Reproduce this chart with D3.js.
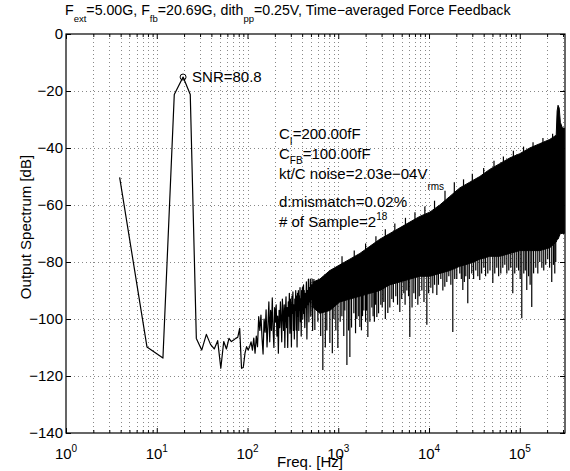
<!DOCTYPE html>
<html>
<head>
<meta charset="utf-8">
<script src="https://cdn.jsdelivr.net/npm/d3@7"></script>
<style>
body { margin: 0; background: #fff; }
svg { display: block; font-family: "Liberation Sans", Arial, Helvetica, sans-serif; }
</style>
</head>
<body>
<div id="chart"></div>
<script>
/* ===== DATA ===== */
// sparse part of the spectrum, [Hz, dB]
const trace = [
  [3.9,-50.3],[7.8,-109.8],[11.7,-113.7],[15.6,-21.2],[19.5,-15.1],[23.4,-21.2],[27.3,-106.8],
  [31.3,-110.9],[35.2,-105.4],[39.1,-108.9],[43.0,-110.5],[46.9,-107.6],[50.8,-117.3],[54.7,-107.9],
  [58.6,-110.5],[62.5,-106.8],[66.4,-107.9],[70.3,-107.4],[74.2,-106.8],[78.1,-106.4],[82.0,-103.3],
  [85.9,-117.3],[89.8,-117.0],[93.8,-112.0],[97.7,-109.7],[101.6,-110.9],[105.5,-109.7],[109.4,-108.0],
  [113.3,-110.9],[117.2,-106.7],[121.1,-112.0],[125.0,-106.0],[128.9,-109.7],[132.8,-99.2],[136.7,-104.0],
  [140.6,-98.6],[144.5,-106.7],[148.4,-112.3],[152.3,-100.0],[156.3,-104.6],[160.2,-96.8],[164.1,-109.8],
  [168.0,-102.0],[171.9,-94.0],[175.8,-108.0],[179.7,-97.0],[183.6,-104.0],[187.5,-92.6],[191.4,-103.8],
  [195.3,-110.0],[199.2,-96.0],[203.1,-101.0],[207.0,-95.0],[210.9,-106.0],[214.8,-99.0],[218.8,-112.0],
  [222.7,-97.0],[226.6,-103.0],[230.5,-94.0],[234.4,-100.0],[238.3,-108.0],[242.2,-93.0],[246.1,-98.0],
  [250.0,-104.0],[253.9,-95.0],[257.8,-110.0],[261.7,-97.0],[265.6,-92.2],[269.5,-103.0],[273.4,-96.0],
  [277.3,-110.0],[281.3,-94.0],[285.2,-99.0],[289.1,-91.0],[293.0,-105.0],[296.9,-93.0],[300.8,-97.0],
  [304.7,-109.8],[308.6,-92.0],[312.5,-98.0],[316.4,-90.5],[320.3,-104.0],[324.2,-95.0],[328.1,-107.0],
  [332.0,-93.0],[335.9,-97.0],[339.8,-90.0],[343.8,-103.9],[347.7,-92.0],[351.6,-109.8],[355.5,-91.0],
  [359.4,-99.0],[363.3,-90.0],[367.2,-104.0],[371.1,-92.0],[375.0,-97.0],[378.9,-89.0],[382.8,-101.0],
  [386.7,-93.0],[390.6,-106.0],[394.5,-90.0],[398.4,-96.0],[402.3,-89.0],[406.3,-100.0],[410.2,-92.0],
  [414.1,-88.0],[418.0,-98.0],[421.9,-90.0],[427.7,-103.0],[433.6,-91.0],[439.5,-96.0],[445.3,-87.0],
  [451.2,-107.0],[457.0,-90.0],[462.9,-95.0],[468.8,-86.0],[474.6,-101.0],[480.5,-89.0],[486.3,-94.0],
  [492.2,-86.0],[498.0,-99.0],[503.9,-88.0],[509.8,-93.0],[515.6,-86.0],[521.5,-104.0],[527.3,-88.0],
  [533.2,-95.0],[539.1,-86.0]
];

// dense part: edges of the solid black band
const bandHz = [530, 627, 808, 1041, 1342, 1729, 2228, 2871, 3700, 4767, 6143, 7916, 10200, 13140,
  16940, 21820, 28120, 36240, 46700, 60170, 77530, 99900, 128700, 165900, 213800, 252000, 258000, 264000,
  272000, 280000, 295000, 310000];
const bandTop = [-87, -86, -83, -81, -79, -77, -74.5, -72, -70, -68, -66, -64, -62.5, -60,
  -57, -54, -52, -50, -47.5, -45.5, -43.5, -42, -40, -38.5, -37, -35.5, -27, -25,
  -26, -31, -33, -33];
const bandBottom = [-96, -98, -97, -94, -93, -92, -91, -90, -88, -87, -86, -85, -85, -84,
  -83, -81.5, -80.5, -79, -78, -78, -77, -76, -76, -76, -75, -73, -72, -72,
  -71, -70, -70, -70];

// small teeth on the upper edge, [Hz, dB]
const upSpikes = [
  [1100,-78],[1500,-76],[2000,-73.5],[2600,-71],[3300,-68.5],[4200,-66.5],[5500,-64.5],[7000,-62.5],
  [9000,-60.5],[11500,-58.5],[15000,-55],[19000,-52],[24000,-51],[30000,-49],[40000,-47],[52000,-44.5],
  [66000,-43],[85000,-41],[110000,-39.5],[140000,-38],[180000,-36.5],[230000,-35]
];

// downward spikes below the band, [Hz, dB]
const spikes = [
  [552,-103.9],[596,-101],[640,-106],[676,-117.9],[720,-110],[748,-104],
  [808,-108.4],[860,-112],[895,-100],[940,-104],[990,-110.2],[1050,-101],[1096,-99],[1150,-106],[1180,-97],
  [1245,-116.1],[1300,-104],[1342,-113.3],[1400,-103],[1485,-98],[1550,-105],[1602,-100],[1680,-99],
  [1729,-102.8],[1800,-104],[1850,-99],[1914,-97],[2000,-101],[2050,-97],[2118,-106.3],[2230,-101],
  [2344,-96],[2420,-99],[2500,-101],[2580,-95],[2661,-99.3],[2780,-98],[2944,-95],[3050,-96],[3177,-94],
  [3300,-100],[3516,-97.9],[3700,-96],[3891,-93],[4050,-94],[4306,-92],[4500,-95],[4767,-97.5],[5000,-93],
  [5276,-91],[5450,-95],[5699,-90],[5950,-92],[6143,-106.3],[6500,-96],[6802,-91],[7100,-93],[7530,-95],
  [7800,-92],[8331,-90],[8800,-94],[9462,-102],[9900,-91],[10470,-89],[11010,-91],[11500,-88],[12190,-91.6],
  [12700,-88],[13490,-86],[14200,-90],[14930,-88.7],[15700,-87],[16520,-85],[17400,-88],[18280,-104.6],
  [19200,-86],[20230,-86],[21830,-84],[22700,-86],[23570,-89.8],[24500,-87],[25420,-85],[26730,-94.5],
  [27800,-86],[29580,-84],[31000,-86],[32740,-83],[34500,-85],[36230,-86.3],[38000,-84],[40150,-82],
  [42000,-85],[44430,-84],[47000,-83],[50450,-87.4],[53000,-84],[55830,-82],[58500,-85],[61780,-84],
  [65000,-82],[68370,-81],[72000,-84],[75650,-83],[79500,-82],[83730,-91],[88000,-84],[92680,-82],
  [97000,-83],[101000,-86],[105200,-99.7],[110700,-84],[115000,-83],[119400,-89.8],[125000,-85],
  [130000,-88],[135500,-95.8],[142000,-84],[150000,-82],[158000,-84],[166000,-80],[175000,-82],
  [183700,-83],[193000,-81],[203300,-79],[213000,-82],[225000,-87],[235000,-81],[243000,-84],[249000,-80]
];

const xDomain = [1, 3.15e5];
const xMajor = [1, 10, 100, 1e3, 1e4, 1e5];
const xExp = ["0", "1", "2", "3", "4", "5"];
const yTicks = [-140, -120, -100, -80, -60, -40, -20, 0];

const snrLabel = "SNR=80.8";
// [text, baseline shift px, font size]
const titleParts = [["F",0,14.2],["ext",7,9.5],["=5.00G, F",0,14.2],["fb",7,9.5],["=20.69G, dith",0,14.2],
  ["pp",7,9.5],["=0.25V, Time\u2212averaged Force Feedback",0,14.2]];
const noteLines = [
  [["C",0,15],["I",6,10],["=200.00fF",0,15]],
  [["C",0,15],["FB",5,10],["=100.00fF",0,15]],
  [["kt/C noise=2.03e\u221204V",0,15],["rms",11,10]],
  [["d:mismatch=0.02%",0,15]],
  [["# of Sample=2",0,15],["18",-7,10]]
];
const noteBaselines = [139, 159, 179, 207, 227];

/* ===== SETUP ===== */
const W = 570, H = 471;
const pLeft = 66, pRight = 565, pTop = 34, pBottom = 433;

const svg = d3.select("#chart").append("svg")
  .attr("width", W).attr("height", H);

const x = d3.scaleLog().domain(xDomain).range([pLeft, pRight]);
const y = d3.scaleLinear().domain([-140, 0]).range([pBottom, pTop]);

function putParts(sel, parts) {
  let cur = 0;
  parts.forEach(([t, shift, size]) => {
    sel.append("tspan")
      .attr("dy", shift - cur)
      .attr("font-size", size)
      .text(t);
    cur = shift;
  });
}

/* ===== GRID ===== */
const allX = x.ticks().filter(v => v > xDomain[0] && v < xDomain[1]);
const grid = svg.append("g")
  .attr("stroke", "#888")
  .attr("stroke-width", 1)
  .attr("stroke-dasharray", "1,3")
  .attr("shape-rendering", "crispEdges");

grid.selectAll(".gx").data(allX).enter().append("line")
  .attr("x1", d => Math.round(x(d)) + 0.5).attr("x2", d => Math.round(x(d)) + 0.5)
  .attr("y1", pTop).attr("y2", pBottom);

grid.selectAll(".gy").data(yTicks.slice(1, -1)).enter().append("line")
  .attr("x1", pLeft).attr("x2", pRight)
  .attr("y1", d => Math.round(y(d)) + 0.5).attr("y2", d => Math.round(y(d)) + 0.5);

/* ===== AXES ===== */
const minorX = allX.filter(v => !xMajor.includes(v));

function styleAxis(g) {
  g.select(".domain").remove();
  g.selectAll("line").attr("stroke", "#000");
  g.selectAll("text").attr("fill", "#000").attr("font-size", 15);
}

svg.append("g").attr("transform", `translate(0,${pBottom})`)
  .call(d3.axisBottom(x).tickValues(xMajor).tickSizeInner(-5).tickSizeOuter(0).tickFormat(""))
  .call(styleAxis);
svg.append("g").attr("transform", `translate(0,${pBottom})`)
  .call(d3.axisBottom(x).tickValues(minorX).tickSizeInner(-3).tickSizeOuter(0).tickFormat(""))
  .call(styleAxis);
svg.append("g").attr("transform", `translate(0,${pTop})`)
  .call(d3.axisTop(x).tickValues(xMajor).tickSizeInner(-5).tickSizeOuter(0).tickFormat(""))
  .call(styleAxis);
svg.append("g").attr("transform", `translate(0,${pTop})`)
  .call(d3.axisTop(x).tickValues(minorX).tickSizeInner(-3).tickSizeOuter(0).tickFormat(""))
  .call(styleAxis);

svg.append("g").attr("transform", `translate(${pLeft},0)`)
  .call(d3.axisLeft(y).tickValues(yTicks).tickSizeInner(-5).tickSizeOuter(0).tickPadding(3)
    .tickFormat(d => d3.format("d")(d).replace("-", "\u2212")))
  .call(styleAxis);
svg.append("g").attr("transform", `translate(${pRight},0)`)
  .call(d3.axisRight(y).tickValues(yTicks).tickSizeInner(-5).tickSizeOuter(0).tickFormat(""))
  .call(styleAxis);

// x tick labels as 10^n
const xl = svg.append("g").selectAll("text").data(xMajor).enter().append("text")
  .attr("x", d => x(d))
  .attr("y", 459)
  .attr("text-anchor", "middle")
  .attr("fill", "#000");
xl.each(function (d, i) {
  putParts(d3.select(this), [["10", 0, 15], [xExp[i], -7, 10]]);
});

/* ===== DATA MARKS ===== */
const plot = svg.append("g");

const band = bandHz.map((hz, i) => ({ hz, top: bandTop[i], bottom: bandBottom[i] }));

plot.append("path")
  .datum(band)
  .attr("fill", "#000")
  .attr("stroke", "#000")
  .attr("stroke-width", 1)
  .attr("d", d3.area().x(d => x(d.hz)).y0(d => y(d.bottom)).y1(d => y(d.top)));

// nearest band sample to the left of a frequency
const bis = d3.bisector(d => d.hz).left;
function bandAt(hz) {
  return band[Math.max(0, Math.min(band.length - 1, bis(band, hz) - 1))];
}

plot.append("g").selectAll("line").data(spikes).enter().append("line")
  .attr("x1", d => x(d[0])).attr("x2", d => x(d[0]))
  .attr("y1", d => y(d[1]))
  .attr("y2", d => { const b = bandAt(d[0]); return y((b.top + b.bottom) / 2); })
  .attr("stroke", "#000")
  .attr("stroke-width", 1.2);

plot.append("g").selectAll("line").data(upSpikes).enter().append("line")
  .attr("x1", d => x(d[0])).attr("x2", d => x(d[0]))
  .attr("y1", d => y(d[1]))
  .attr("y2", d => { const b = bandAt(d[0]); return y((b.top + b.bottom) / 2); })
  .attr("stroke", "#000")
  .attr("stroke-width", 1.2);

plot.append("path")
  .datum(trace)
  .attr("fill", "none")
  .attr("stroke", "#000")
  .attr("stroke-width", 1.2)
  .attr("stroke-linejoin", "round")
  .attr("d", d3.line().x(d => x(d[0])).y(d => y(d[1])));

// peak marker
const peak = d3.greatest(trace, d => d[1]);
plot.append("circle")
  .attr("cx", x(peak[0])).attr("cy", y(peak[1])).attr("r", 3)
  .attr("fill", "none").attr("stroke", "#000").attr("stroke-width", 1);
svg.append("text")
  .attr("x", x(peak[0]) + 9).attr("y", y(peak[1]) + 5)
  .attr("font-size", 15).attr("fill", "#000")
  .text(snrLabel);

/* ===== TEXTS ===== */
noteLines.forEach((parts, i) => {
  const t = svg.append("text").attr("x", 279).attr("y", noteBaselines[i]).attr("fill", "#000");
  putParts(t, parts);
});

const title = svg.append("text").attr("x", 65).attr("y", 15).attr("fill", "#000");
putParts(title, titleParts);

svg.append("text")
  .attr("x", 310).attr("y", 467)
  .attr("text-anchor", "middle").attr("font-size", 15).attr("fill", "#000")
  .text("Freq. [Hz]");

svg.append("text")
  .attr("transform", "translate(31,227) rotate(-90)")
  .attr("text-anchor", "middle").attr("font-size", 15).attr("fill", "#000")
  .text("Output Spectrum [dB]");

/* ===== BOX ===== */
svg.append("rect")
  .attr("x", pLeft).attr("y", pTop)
  .attr("width", pRight - pLeft).attr("height", pBottom - pTop)
  .attr("fill", "none").attr("stroke", "#000").attr("stroke-width", 1.2);
</script>
</body>
</html>
